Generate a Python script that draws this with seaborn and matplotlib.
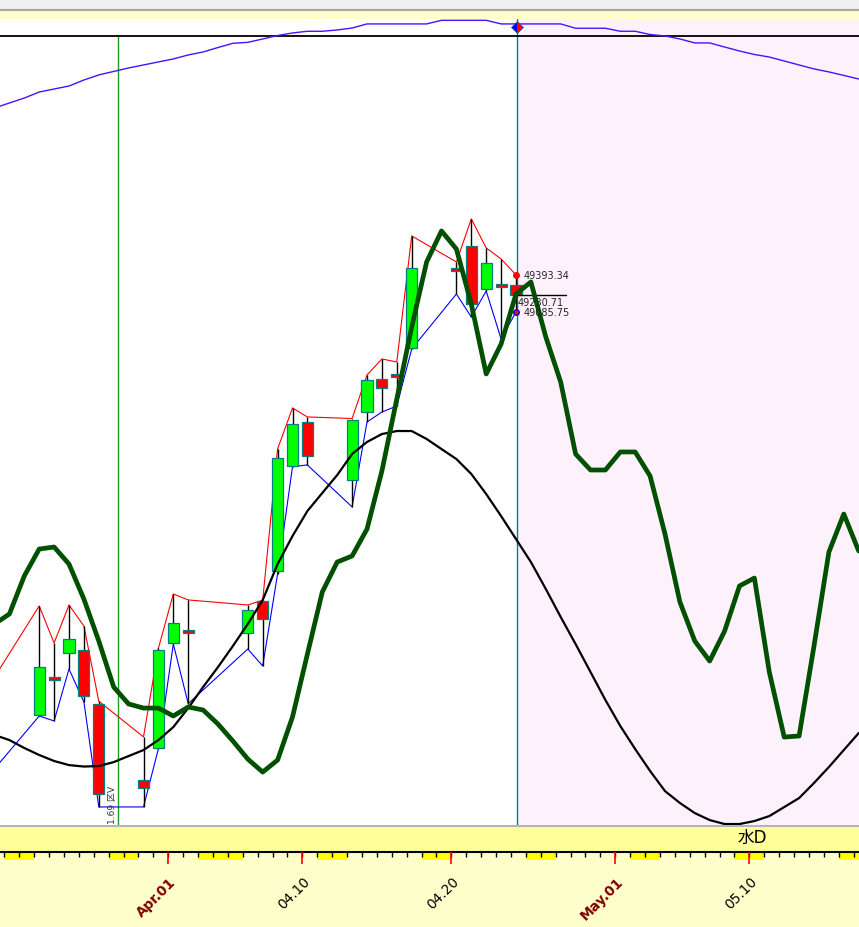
import numpy as np
import pandas as pd
import seaborn as sns
import matplotlib.pyplot as plt

sns.set_style('white')
plt.rcParams['font.family'] = ['DejaVu Sans', 'Noto Sans CJK JP']

# trading days, counted in calendar days from Apr.01
candle_day = [-12, -9, -8, -7, -6, -5, -2, -1, 0, 1, 5, 6, 7, 8, 9, 12, 13, 14, 15, 16, 19, 20, 21, 22, 23]
open_ = [45600, 45735, 46043, 46251, 46276, 45827, 45195, 45461, 46334, 46426, 46417, 46683, 46933,
         47806, 48171, 47689, 48254, 48529, 48554, 48786, 49435, 49634, 49277, 49302, 49310]
high = [46050, 46642, 46334, 46650, 46475, 45850, 45553, 46290, 46741, 46692, 46650, 46690, 47947,
        48288, 48213, 48200, 48562, 48695, 48670, 49718, 49501, 49859, 49618, 49526, 49393.34]
low = [45288, 45727, 45686, 46118, 45844, 44971, 44971, 45455, 46326, 45830, 46284, 46143, 46908,
       47800, 47814, 47465, 48171, 48254, 48304, 48778, 49235, 49044, 49260, 48861, 49085.75]
close = [45950, 46135, 46030, 46367, 45893, 45079, 45129, 46276, 46500, 46417, 46608, 46534, 47872,
         48155, 47889, 48188, 48520, 48454, 48545, 49452, 49430, 49152, 49493, 49294, 49230.71]

# daily indicator curves, days -12 .. 46
curve_day = list(range(-12, 47))
green_line = [46492, 46575, 46891, 47115, 47132, 46990, 46699, 46350, 45968, 45827, 45793, 45793,
              45727, 45802, 45777, 45660, 45519, 45369, 45261, 45361, 45719, 46242, 46758, 47007,
              47057, 47281, 47764, 48362, 48961, 49501, 49759, 49609, 49152, 48570, 48819, 49235,
              49335, 48878, 48503, 47905, 47772, 47772, 47922, 47922, 47722, 47240, 46675, 46350,
              46184, 46433, 46808, 46874, 46093, 45552, 45561, 46309, 47090, 47406, 47099]
black_curve = [45569, 45527, 45461, 45403, 45353, 45319, 45307, 45311, 45344, 45394, 45444, 45527,
               45635, 45793, 45968, 46134, 46309, 46492, 46691, 46990, 47223, 47431, 47581, 47730,
               47905, 48005, 48071, 48096, 48096, 48030, 47946, 47863, 47739, 47572, 47389, 47198,
               47007, 46783, 46550, 46325, 46093, 45860, 45644, 45452, 45270, 45103, 45004, 44920,
               44862, 44829, 44829, 44854, 44895, 44970, 45045, 45170, 45303, 45444, 45585]
top_curve = [50781, 50823, 50864, 50914, 50939, 50964, 51014, 51056, 51085, 51114, 51139, 51164,
             51189, 51222, 51247, 51284, 51319, 51327, 51355, 51384, 51405, 51419, 51419, 51430,
             51446, 51480, 51480, 51480, 51480, 51480, 51510, 51510, 51510, 51510, 51480, 51480,
             51480, 51480, 51480, 51444, 51444, 51444, 51419, 51419, 51392, 51380, 51355, 51322,
             51322, 51288, 51255, 51226, 51205, 51172, 51139, 51106, 51081, 51052, 51022]

weekend_days = [-11, -10, -4, -3, 2, 3, 4, 10, 11, 17, 18, 24, 25, 31, 32, 38, 39, 45, 46]
label_days = [0, 9, 19, 30, 39]
label_text = ['Apr.01', '04.10', '04.20', 'May.01', '05.10']
month_start = [True, False, False, True, False]

top_level = 51380
marker_level = 51455
last_high, last_close, last_low = 49393.34, 49230.71, 49085.75

x_left, x_right = -11.295, 46.356
y_bottom, y_top = 44821, 51521
off = 0.336
now_x = 23.40
mark_x = -3.376

cx = np.array(candle_day) + off
qx = np.array(curve_day) + off

fig = plt.figure(figsize=(8.59, 9.28), dpi=100)
fig.patch.set_facecolor('white')

# main price panel
ax = fig.add_axes([0, 102 / 928, 1, 806 / 928])
ax.set_xlim(x_left, x_right)
ax.set_ylim(y_bottom, y_top)
ax.set_xticks([])
ax.set_yticks([])
for s in ax.spines.values():
    s.set_visible(False)

ax.axvspan(now_x, x_right, color='#FDF2FB', zorder=0, lw=0)
ax.axhline(top_level, color='black', lw=1.3, zorder=3)
ax.plot([mark_x, mark_x], [y_bottom, top_level], color='#1E9E1E', lw=1, zorder=1)
ax.axvline(now_x, color='#008080', lw=1, zorder=1)

sns.lineplot(x=qx, y=top_curve, ax=ax, color='#4B10FF', lw=1, zorder=3)
sns.lineplot(x=cx, y=high, ax=ax, color='#FF0000', lw=0.8, zorder=2)
sns.lineplot(x=cx, y=low, ax=ax, color='#0000FF', lw=0.8, zorder=2)

# candles (only those inside the window)
df = pd.DataFrame({'x': cx, 'o': open_, 'h': high, 'l': low, 'c': close})
df = df[df['x'] - 0.37 > x_left]
body_lo = np.minimum(df['o'], df['c'])
body_h = np.maximum((df['c'] - df['o']).abs(), 22)
colors = ['#00FF00' if r.c > r.o else '#FF0000' for r in df.itertuples()]
ax.vlines(df['x'], df['l'], df['h'], color='black', lw=1, zorder=3)
ax.bar(df['x'], body_h, bottom=body_lo, width=0.74, color=colors, edgecolor='#008080', linewidth=0.9, zorder=4)

sns.lineplot(x=qx, y=black_curve, ax=ax, color='black', lw=1.6, zorder=5)
sns.lineplot(x=qx, y=green_line, ax=ax, color='#005000', lw=3.4, zorder=6)

# last bar annotations
ax.plot([now_x, now_x + 3.3], [last_close, last_close], color='black', lw=1, zorder=5)
ax.plot(cx[-1], last_high, 'o', color='red', ms=4, zorder=7)
ax.plot(cx[-1], last_low, 'o', mfc='red', mec='blue', ms=4, zorder=7)
ax.text(23.87, last_high, f'{last_high:.2f}', fontsize=7, va='center', ha='left', zorder=8)
ax.text(23.47, last_close - 22, f'{last_close:.2f}', fontsize=7, va='top', ha='left', zorder=8)
ax.text(23.87, last_low, f'{last_low:.2f}', fontsize=7, va='center', ha='left', zorder=8)
ax.plot(now_x, marker_level, marker='D', ms=6, mfc='blue', mfcalt='red', fillstyle='left',
        mec='#3050A0', mew=0.5, zorder=8)
ax.text(mark_x - 0.08, y_bottom + 20, '1.69 区V', rotation=90, fontsize=6.5, color='#333333',
        ha='right', va='bottom', zorder=8)

# time axis strip
ax2 = fig.add_axes([0, 0, 1, 102 / 928])
ax2.set_xlim(x_left, x_right)
ax2.set_ylim(0, 1)
ax2.set_facecolor('#FFFFCC')
ax2.set_xticks([])
ax2.set_yticks([])
for s in ax2.spines.values():
    s.set_visible(False)
ax2.axhspan(0.735, 1, color='#FFFF99', lw=0)
ax2.axhline(0.99, color='#B4B4B4', lw=1.5)
ax2.bar(np.array(weekend_days) + 0.5, 0.078, bottom=0.657, width=1, color='#FFFF00', lw=0)
ax2.axhline(0.735, color='black', lw=1.5)
ax2.vlines(range(-11, 47), 0.686, 0.735, color='black', lw=1)
ax2.vlines(label_days, 0.618, 0.735, color='red', lw=1.2)
for d, t, m in zip(label_days, label_text, month_start):
    ax2.text(d + 0.72, 0.52, t, rotation=45, ha='right', va='top', fontsize=9.8,
             color='#800000' if m else 'black', fontweight='bold' if m else 'normal')
ax2.text(39.17, 0.88, '水D', fontsize=12, ha='center', va='center', color='black')

# window strip at the very top
ax0 = fig.add_axes([0, 1 - 20 / 928, 1, 20 / 928])
ax0.set_xlim(0, 1)
ax0.set_ylim(0, 1)
ax0.set_facecolor('#FFFFCC')
ax0.set_xticks([])
ax0.set_yticks([])
for s in ax0.spines.values():
    s.set_visible(False)
ax0.axhspan(0.5, 1, color='#F0F0F0', lw=0)
ax0.axhline(0.47, color='#A8A8A8', lw=1.5)

fig.savefig('out.png', dpi=100)
